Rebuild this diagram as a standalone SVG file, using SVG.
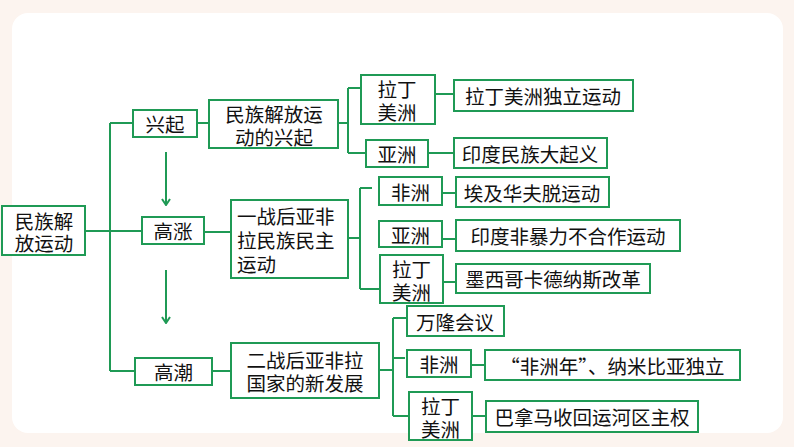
<svg xmlns="http://www.w3.org/2000/svg" width="794" height="447" viewBox="0 0 794 447">
<style>
.b{fill:#fff;stroke:#1f9a55;stroke-width:2}
.c{fill:none;stroke:#1f9a55;stroke-width:2}
text{font-family:"Noto Sans CJK SC","Noto Sans",sans-serif;font-size:19.5px;fill:#111;dominant-baseline:central}
.m{text-anchor:middle}
</style>
<defs>
<marker id="ah" viewBox="0 0 10 10" refX="9" refY="5" markerWidth="10" markerHeight="10" markerUnits="userSpaceOnUse" orient="auto">
<path d="M3,1 L9,5 L3,9" fill="none" stroke="#1f9a55" stroke-width="2"/>
</marker>
</defs>
<rect x="0" y="0" width="794" height="447" fill="#fcf4ef"/>
<rect x="12" y="13" width="771" height="420" rx="16" fill="#fff"/>
<g id="connectors">
<path class="c" d="M85,231 H142 M110,123 V371 M110,123 H133 M110,371 H135"/>
<path class="c" d="M197,123 H209 M338,123 H348 M348,88 V153 M348,88 H361 M348,153 H366 M435,94 H454 M428,153 H454"/>
<path class="c" d="M204,232 H231 M348,238 H360 M360,188 V289 M360,188 H372 M360,289 H380 M442,193 H456 M442,239 H456 M443,282 H456"/>
<path class="c" d="M212,371 H231 M379,370 H393 M393,318 V416 M393,318 H407 M393,358 H405 M393,416 H409 M471,365 H485 M472,416 H486"/>
<line class="c" x1="166" y1="152" x2="166" y2="205" marker-end="url(#ah)"/>
<line class="c" x1="166" y1="270" x2="166" y2="323" marker-end="url(#ah)"/>
</g>
<g id="root"><rect class="b" x="2" y="206" width="83" height="49"/><text class="m"><tspan x="44" y="220">民族解</tspan><tspan x="44" y="242">放运动</tspan></text></g>
<g id="xingqi"><rect class="b" x="133" y="110" width="64" height="27"/><text class="m" x="165" y="123">兴起</text></g>
<g id="gaozhang"><rect class="b" x="142" y="217" width="62" height="27"/><text class="m" x="173" y="230.5">高涨</text></g>
<g id="gaochao"><rect class="b" x="135" y="358" width="77" height="27"/><text class="m" x="173.5" y="371.5">高潮</text></g>
<g id="b5"><rect class="b" x="209" y="100" width="129" height="48"/><text class="m"><tspan x="274" y="113">民族解放运</tspan><tspan x="274" y="136">动的兴起</tspan></text></g>
<g id="b6"><rect class="b" x="231" y="200" width="117" height="78"/><text><tspan x="237" y="215">一战后亚非</tspan><tspan x="237" y="239">拉民族民主</tspan><tspan x="237" y="263">运动</tspan></text></g>
<g id="b7"><rect class="b" x="231" y="343" width="148" height="55"/><text class="m"><tspan x="305" y="359">二战后亚非拉</tspan><tspan x="305" y="382">国家的新发展</tspan></text></g>
<g id="lading1"><rect class="b" x="361" y="75" width="74" height="49"/><text class="m"><tspan x="397" y="88">拉丁</tspan><tspan x="397" y="111">美洲</tspan></text></g>
<g id="e1"><rect class="b" x="454" y="80" width="179" height="31"/><text class="m" x="543" y="95">拉丁美洲独立运动</text></g>
<g id="yazhou1"><rect class="b" x="366" y="140" width="62" height="27"/><text class="m" x="397" y="153">亚洲</text></g>
<g id="e2"><rect class="b" x="454" y="138" width="153" height="30"/><text class="m" x="530" y="153">印度民族大起义</text></g>
<g id="feizhou1"><rect class="b" x="379" y="177" width="63" height="28"/><text class="m" x="410.5" y="191">非洲</text></g>
<g id="e3"><rect class="b" x="456" y="177" width="153" height="30"/><text class="m" x="532" y="192">埃及华夫脱运动</text></g>
<g id="yazhou2"><rect class="b" x="379" y="221" width="63" height="26"/><text class="m" x="410.5" y="234">亚洲</text></g>
<g id="e4"><rect class="b" x="456" y="220" width="224" height="31"/><text class="m" x="568" y="235.5">印度非暴力不合作运动</text></g>
<g id="lading2"><rect class="b" x="380" y="255" width="63" height="48"/><text class="m"><tspan x="411.5" y="268">拉丁</tspan><tspan x="411.5" y="291">美洲</tspan></text></g>
<g id="e5"><rect class="b" x="456" y="264" width="194" height="29"/><text class="m" x="553" y="278.5">墨西哥卡德纳斯改革</text></g>
<g id="wanlong"><rect class="b" x="407" y="306" width="97" height="30"/><text class="m" x="455" y="321">万隆会议</text></g>
<g id="feizhou2"><rect class="b" x="407" y="350" width="64" height="27"/><text class="m" x="439" y="363.5">非洲</text></g>
<g id="e6"><rect class="b" x="485" y="350" width="255" height="30"/><text class="m" x="612.5" y="365">“非洲年”、纳米比亚独立</text></g>
<g id="lading3"><rect class="b" x="409" y="392" width="63" height="48"/><text class="m"><tspan x="440.5" y="405">拉丁</tspan><tspan x="440.5" y="428">美洲</tspan></text></g>
<g id="e7"><rect class="b" x="486" y="401" width="212" height="31"/><text class="m" x="592" y="416.5">巴拿马收回运河区主权</text></g>
</svg>
